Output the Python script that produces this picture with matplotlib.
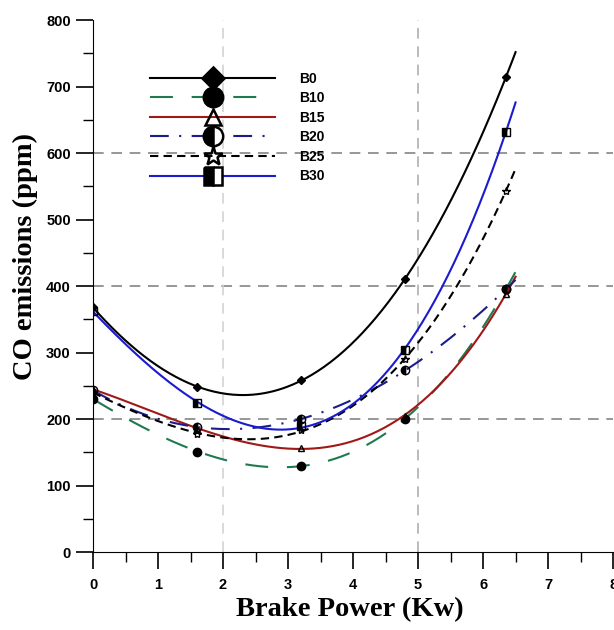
import numpy as np
import matplotlib
matplotlib.use("Agg")
import matplotlib.pyplot as plt
from matplotlib.ticker import MultipleLocator

# data
power = [0, 1.6, 3.2, 4.8, 6.35]
series_names = ["B0", "B10", "B15", "B20", "B25", "B30"]
b0 = [368, 248, 259, 410, 714]
b10 = [230, 151, 130, 200, 395]
b15 = [245, 185, 157, 205, 388]
b20 = [243, 188, 200, 273, 395]
b25 = [240, 178, 183, 290, 543]
b30 = [362, 224, 190, 304, 632]
x_ticks = [0, 1, 2, 3, 4, 5, 6, 7, 8]
y_ticks = [0, 100, 200, 300, 400, 500, 600, 700, 800]

values = [b0, b10, b15, b20, b25, b30]
colors = ["black", "#1f7a4d", "#a01818", "#1c1c8a", "black", "#1a1ad0"]
styles = ["-", (0, (11, 9)), "-", (0, (9, 5, 1, 5)), (0, (4, 2.5)), "-"]
markers = ["D", "o", "^", "o", "*", "s"]
fills = ["full", "full", "none", "left", "none", "left"]
msizes = [4, 6, 5, 6, 6, 5.5]
leg_sizes = [11, 14, 11, 14, 14, 13]

fig = plt.figure(figsize=(6.14, 6.3), dpi=100)
ax = fig.add_axes([0.1515, 0.1238, 0.847, 0.8444])

xs = np.linspace(0, 6.5, 200)
for name, y, c, ls, m, fs, ms, lms in zip(series_names, values, colors, styles,
                                          markers, fills, msizes, leg_sizes):
    coef = np.polyfit(power, y, 3)
    ax.plot(xs, np.polyval(coef, xs), color=c, ls=ls, lw=1.5)
    ax.plot(power, y, ls="none", marker=m, ms=ms, mfc="black", mec="black",
            fillstyle=fs, mew=1.0)
    # legend proxy
    ax.plot([], [], color=c, ls=ls, lw=1.5, marker=m, ms=lms,
            mfc="black", mec="black", mew=1.8, fillstyle=fs,
            markerfacecoloralt="white", label=name)

for yv in [200, 400, 600]:
    ax.axhline(yv, color="#7a7a7a", ls=(0, (7, 5)), lw=1.1, zorder=0)
ax.axvline(2, color="#d0d0d0", ls=(0, (7, 5)), lw=1.1, zorder=0)
ax.axvline(5, color="#a8a8a8", ls=(0, (7, 5)), lw=1.1, zorder=0)

ax.set_xlim(0, 8)
ax.set_ylim(0, 800)
ax.set_xticks(x_ticks)
ax.set_yticks(y_ticks)
ax.xaxis.set_minor_locator(MultipleLocator(0.5))
ax.yaxis.set_minor_locator(MultipleLocator(50))
ax.spines["top"].set_visible(False)
ax.spines["right"].set_visible(False)
ax.tick_params(which="major", direction="out", length=12, width=1.2,
               labelsize=10.5, pad=5)
ax.tick_params(axis="y", which="major", pad=4)
ax.tick_params(axis="x", which="major", pad=7)
ax.tick_params(which="minor", direction="out", length=7, width=1.0)
for lab in ax.get_xticklabels() + ax.get_yticklabels():
    lab.set_fontweight("bold")
    lab.set_fontfamily("Liberation Sans")

ax.set_xlabel("Brake Power (Kw)", fontsize=20.5, fontweight="bold",
              fontfamily="Liberation Serif")
ax.set_ylabel("CO emissions (ppm)", fontsize=20.5, fontweight="bold",
              fontfamily="Liberation Serif")
ax.xaxis.set_label_coords(0.494, -0.085)
ax.yaxis.set_label_coords(-0.105, 0.556)

leg = ax.legend(loc="upper left", bbox_to_anchor=(0.11, 0.903), frameon=False,
                handlelength=9, handletextpad=1.7, labelspacing=0.4,
                borderpad=0, borderaxespad=0,
                prop={"family": "Liberation Sans", "weight": "bold", "size": 10})

fig.savefig("out.png", dpi=100)
